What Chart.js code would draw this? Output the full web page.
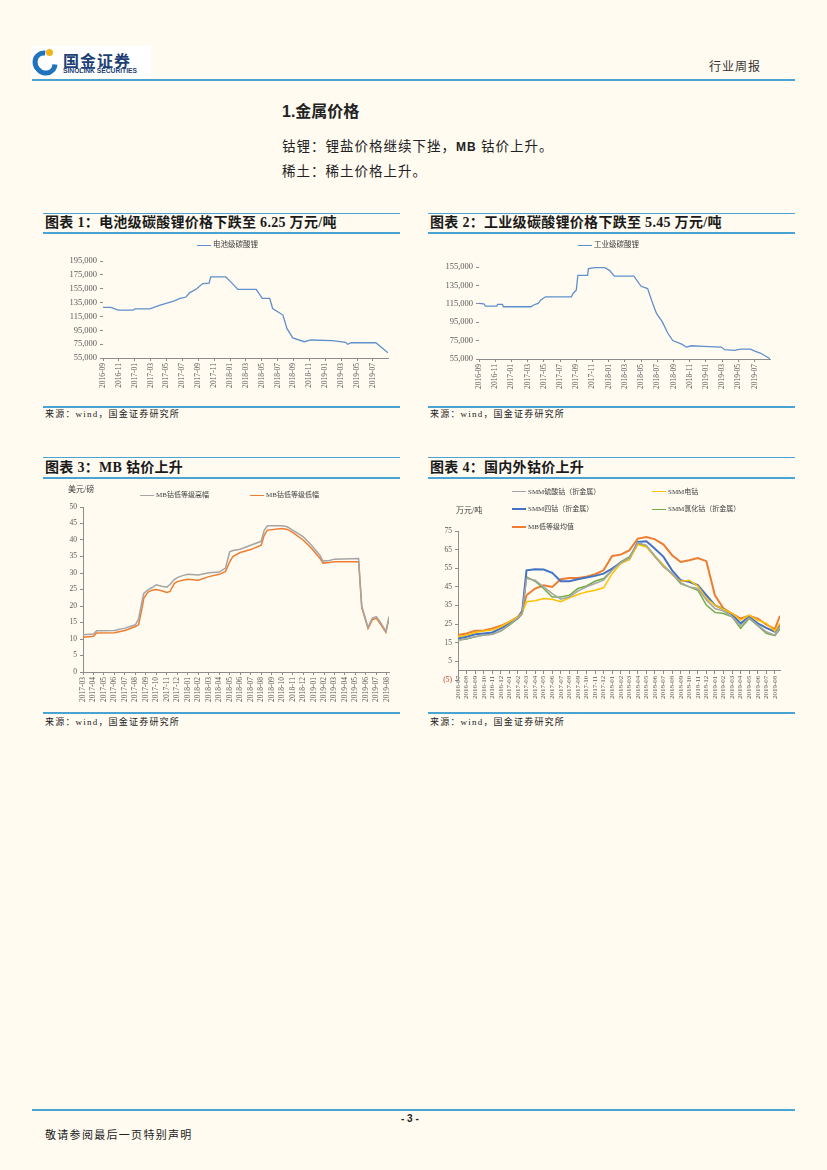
<!DOCTYPE html>
<html>
<head>
<meta charset="utf-8">
<title>行业周报</title>
<script src="https://cdn.jsdelivr.net/npm/chart.js@4.4.1/dist/chart.umd.min.js"></script>
<style>
  body { margin: 0; background: #fffbf1; }
  #page { position: relative; width: 827px; height: 1170px; overflow: hidden; font-family: "Liberation Serif", "Noto Sans CJK SC", serif; color: #222; }
  .abs { position: absolute; white-space: nowrap; }
  .rule { position: absolute; background: #4aa3d2; }
  .title { position: absolute; white-space: nowrap; font-size: 14px; line-height: 16px; font-weight: bold; letter-spacing: 0.3px; color: #1a1a1a; }
  .src { position: absolute; white-space: nowrap; font-size: 9px; line-height: 10px; letter-spacing: 1.2px; color: #222; }
  .box { position: absolute; }
  .unit { position: absolute; white-space: nowrap; font-size: 8px; line-height: 10px; color: #404040; }
  .legend { position: absolute; font-size: 7.5px; line-height: 10px; color: #404040; }
  .legend .item { display: flex; align-items: center; white-space: nowrap; }
  .legend i { display: inline-block; width: 14px; height: 0; border-top: 1.5px solid; margin-right: 2px; }
  #lg3, #lg4 { display: grid; }
  #lg3 { grid-template-columns: 110px 110px; font-size: 7px; }
  #lg4 { grid-template-columns: 140px 140px; grid-auto-rows: 17.5px; font-size: 7px; }
</style>
</head>
<body>
<div id="page">
  <!-- header -->
  <div class="abs" style="left:31px;top:46px;width:120px;height:32px;background:#fff;">
    <div class="abs" style="left:2px;top:4px;width:14px;height:16px;border:5px solid #1f74bd;border-right-color:transparent;border-radius:50%;transform:rotate(-40deg);"></div>
    <div class="abs" style="left:15px;top:3px;width:7px;height:7px;border-radius:50%;background:#f3b41b;"></div>
    <div class="abs" style="left:32px;top:2px;font:bold 16px 'Noto Sans CJK SC';letter-spacing:1px;color:#1d3f75;">国金证券</div>
    <div class="abs" style="left:32px;top:21px;font:bold 6.7px 'Liberation Sans';color:#1d3f75;">SINOLINK SECURITIES</div>
  </div>
  <div class="abs" style="left:709px;top:60px;font-size:12px;line-height:14px;letter-spacing:1px;color:#333;">行业周报</div>
  <div class="rule" style="left:32px;top:79px;width:763px;height:2px;"></div>

  <div class="abs" style="left:282px;top:102px;font-size:16px;line-height:20px;font-weight:bold;"><span style="font-family:'Liberation Sans'">1.</span>金属价格</div>
  <div class="abs" style="left:282px;top:138px;font-size:13.5px;line-height:18px;letter-spacing:1px;">钴锂：锂盐价格继续下挫，<span style="font-family:'Liberation Sans';font-weight:bold;font-size:12px;">MB</span> 钴价上升。</div>
  <div class="abs" style="left:282px;top:163px;font-size:13.5px;line-height:18px;letter-spacing:1px;">稀土：稀土价格上升。</div>

  <!-- chart 1 -->
  <div class="rule" style="left:43px;top:213px;width:357px;height:1px;"></div>
  <div class="title" style="left:45px;top:215px;">图表 1：电池级碳酸锂价格下跌至 6.25 万元/吨</div>
  <div class="rule" style="left:43px;top:232px;width:357px;height:2px;"></div>
  <div class="box" style="left:42px;top:236px;width:358px;height:166px;"><canvas id="c1"></canvas></div>
  <div class="legend" id="lg1" style="left:197px;top:240px;"></div>
  <div class="rule" style="left:43px;top:406px;width:357px;height:2px;"></div>
  <div class="src" style="left:45px;top:409px;">来源：wind，国金证券研究所</div>

  <!-- chart 2 -->
  <div class="rule" style="left:428px;top:213px;width:367px;height:1px;"></div>
  <div class="title" style="left:430px;top:215px;">图表 2：工业级碳酸锂价格下跌至 5.45 万元/吨</div>
  <div class="rule" style="left:428px;top:232px;width:367px;height:2px;"></div>
  <div class="box" style="left:428px;top:236px;width:367px;height:166px;"><canvas id="c2"></canvas></div>
  <div class="legend" id="lg2" style="left:578px;top:240px;"></div>
  <div class="rule" style="left:428px;top:406px;width:367px;height:2px;"></div>
  <div class="src" style="left:430px;top:409px;">来源：wind，国金证券研究所</div>

  <!-- chart 3 -->
  <div class="rule" style="left:43px;top:457px;width:357px;height:1px;"></div>
  <div class="title" style="left:45px;top:460px;">图表 3：MB 钴价上升</div>
  <div class="rule" style="left:43px;top:477px;width:357px;height:2px;"></div>
  <div class="box" style="left:42px;top:480px;width:358px;height:230px;"><canvas id="c3"></canvas></div>
  <div class="unit" style="left:68px;top:485px;">美元/磅</div>
  <div class="legend" id="lg3" style="left:140px;top:490px;"></div>
  <div class="rule" style="left:43px;top:712px;width:357px;height:2px;"></div>
  <div class="src" style="left:45px;top:717px;">来源：wind，国金证券研究所</div>

  <!-- chart 4 -->
  <div class="rule" style="left:428px;top:457px;width:367px;height:1px;"></div>
  <div class="title" style="left:430px;top:460px;">图表 4：国内外钴价上升</div>
  <div class="rule" style="left:428px;top:477px;width:367px;height:2px;"></div>
  <div class="box" style="left:428px;top:480px;width:367px;height:230px;"><canvas id="c4"></canvas></div>
  <div class="unit" style="left:456px;top:506px;">万元/吨</div>
  <div class="legend" id="lg4" style="left:512px;top:483px;"></div>
  <div class="rule" style="left:428px;top:712px;width:367px;height:2px;"></div>
  <div class="src" style="left:430px;top:717px;">来源：wind，国金证券研究所</div>

  <!-- footer -->
  <div class="rule" style="left:32px;top:1109px;width:763px;height:2px;"></div>
  <div class="abs" style="left:401px;top:1113px;font:bold 10px 'Liberation Sans';line-height:12px;">- 3 -</div>
  <div class="abs" style="left:45px;top:1129px;font-size:11px;line-height:12px;letter-spacing:1.3px;">敬请参阅最后一页特别声明</div>
</div>

<script>
// ---- 电池级碳酸锂 (元/吨)
var li1Dates = ['2016-09-01', '2016-10-01', '2016-10-28', '2016-12-25', '2017-01-01', '2017-02-28', '2017-04-04',
    '2017-06-01', '2017-06-22', '2017-07-15', '2017-07-28', '2017-08-25', '2017-09-18', '2017-10-12', '2017-10-18',
    '2017-12-15', '2018-01-01', '2018-02-01', '2018-04-10', '2018-05-03', '2018-06-01', '2018-06-12', '2018-07-21',
    '2018-08-06', '2018-08-28', '2018-10-12', '2018-11-06', '2019-01-28', '2019-03-18', '2019-03-25', '2019-04-10',
    '2019-07-12', '2019-08-28'];
var li1Values = [128000, 128000, 124000, 124000, 126000, 126000, 131000,
    137500, 141000, 143000, 149000, 155000, 162500, 163000, 172000,
    172000, 166000, 154000, 154000, 141000, 141000, 126500, 117000,
    97700, 84000, 78500, 81000, 80000, 77500, 74700, 77000,
    77000, 62600];

// ---- 工业级碳酸锂 (元/吨)
var li2Dates = ['2016-09-01', '2016-09-19', '2016-09-25', '2016-11-07', '2016-11-10', '2016-11-28', '2016-12-01',
    '2017-03-13', '2017-03-25', '2017-04-10', '2017-04-19', '2017-05-07', '2017-08-13', '2017-08-19', '2017-09-01',
    '2017-09-07', '2017-10-13', '2017-10-16', '2017-11-10', '2017-12-16', '2018-01-04', '2018-01-22', '2018-04-04',
    '2018-05-01', '2018-05-25', '2018-06-16', '2018-06-28', '2018-07-19', '2018-08-10', '2018-08-28', '2018-10-01',
    '2018-10-19', '2018-11-07', '2018-12-22', '2019-02-28', '2019-03-10', '2019-04-16', '2019-05-10', '2019-06-16',
    '2019-07-04', '2019-07-22', '2019-08-28'];
var li2Values = [115400, 115000, 112500, 112500, 114300, 114300, 111800,
    111800, 114000, 115500, 119000, 122600, 122600, 126200, 129800,
    146000, 146000, 153200, 154300, 154300, 151400, 145000, 145000,
    134000, 131600, 113600, 104600, 95600, 83000, 75100, 71200,
    68000, 69400, 68700, 68000, 65100, 64400, 65800, 65800,
    63300, 61500, 55400];

var liTicks = ['2016-09', '2016-11', '2017-01', '2017-03', '2017-05', '2017-07', '2017-09', '2017-11', '2018-01',
    '2018-03', '2018-05', '2018-07', '2018-09', '2018-11', '2019-01', '2019-03', '2019-05', '2019-07'];

// ---- MB钴 (美元/磅)
var mbDates = ['2017-03-01', '2017-04-01', '2017-04-10', '2017-06-01', '2017-07-01', '2017-08-01', '2017-08-10',
    '2017-08-20', '2017-08-25', '2017-09-07', '2017-09-19', '2017-10-01', '2017-10-16', '2017-11-01', '2017-11-10',
    '2017-11-22', '2017-12-01', '2017-12-16', '2018-01-01', '2018-02-01', '2018-03-01', '2018-04-01', '2018-04-19',
    '2018-05-01', '2018-05-10', '2018-06-01', '2018-07-01', '2018-08-01', '2018-08-10', '2018-08-19', '2018-10-01',
    '2018-10-16', '2018-11-01', '2018-12-01', '2018-12-25', '2019-01-19', '2019-01-28', '2019-02-16', '2019-03-01',
    '2019-05-10', '2019-05-19', '2019-06-07', '2019-06-19', '2019-07-01', '2019-07-16', '2019-07-28', '2019-08-07'];
var mbHigh = [11.3, 11.5, 12.5, 12.6, 13.3, 14.3, 16, 21.5, 23.8, 24.9, 25.6, 26.4, 26, 25.7, 26.5,
    28, 28.6, 29.2, 29.6, 29.4, 30.1, 30.3, 31.5, 36.4, 36.8, 37.2, 38.4, 39.6, 43, 44.3,
    44.3, 44, 43, 41, 38.4, 35.4, 33.6, 33.8, 34.2, 34.4, 20, 13.5, 16.3, 16.8, 14.5, 12.3, 16.8];
var mbLow = [10.5, 10.8, 11.8, 11.9, 12.6, 13.8, 14.3, 19.3, 22.3, 24.2, 24.8, 25, 24.6, 24.1, 24.4,
    26.8, 27.4, 27.8, 28.1, 27.8, 28.9, 29.6, 30.5, 33.4, 35, 36.2, 37.1, 38.4, 41.5, 43,
    43.5, 43.2, 42.3, 40, 37.5, 34.5, 33, 33.2, 33.4, 33.4, 19.5, 13.2, 15.8, 16.3, 14, 12, 16.3];
var mbTicks = ['2017-03', '2017-04', '2017-05', '2017-06', '2017-07', '2017-08', '2017-09', '2017-10', '2017-11',
    '2017-12', '2018-01', '2018-02', '2018-03', '2018-04', '2018-05', '2018-06', '2018-07', '2018-08', '2018-09',
    '2018-10', '2018-11', '2018-12', '2019-01', '2019-02', '2019-03', '2019-04', '2019-05', '2019-06', '2019-07',
    '2019-08'];

// ---- 国内外钴价 (万元/吨)
var coDates = ['2016-07-01', '2016-08-01', '2016-09-01', '2016-10-01', '2016-11-01', '2016-12-01', '2017-01-01',
    '2017-02-01', '2017-02-16', '2017-03-01', '2017-04-01', '2017-05-01', '2017-06-01', '2017-07-01', '2017-08-01',
    '2017-09-01', '2017-10-01', '2017-11-01', '2017-12-01', '2018-01-01', '2018-02-01', '2018-03-01', '2018-04-01',
    '2018-05-01', '2018-06-01', '2018-07-01', '2018-08-01', '2018-09-01', '2018-10-01', '2018-11-01', '2018-12-01',
    '2019-01-01', '2019-02-01', '2019-03-01', '2019-04-01', '2019-05-01', '2019-06-01', '2019-07-01', '2019-08-01',
    '2019-08-19'];
var coSulfate = [16.4, 17.3, 18.2, 19.1, 19.6, 21.4, 24.8, 28.4, 31, 49.5, 48.6, 45, 41.4, 38.4, 39.6,
    42.7, 45, 46.8, 48.6, 53.9, 58, 60.5, 68.8, 67.3, 61.1, 55.7, 52.1, 47.3, 45, 44.1,
    37.9, 33.4, 32, 28.9, 24.1, 28.4, 24.5, 20.9, 19.1, 23.6];
var coCathode = [18.2, 19.1, 20.5, 21.3, 21.8, 23.6, 26.2, 28.9, 31, 37, 37.5, 38.8, 38.4, 37, 39.1,
    40.9, 42.3, 43.2, 44.5, 52.1, 57.5, 59.8, 67.7, 66.4, 61.1, 56.6, 51.6, 48, 48.6, 45.4,
    38.8, 35.2, 33, 30.7, 27.1, 29.8, 27.1, 25.4, 21.3, 25.4];
var coOxide = [17.3, 18.2, 19.6, 20, 20.5, 22.7, 25.4, 28.4, 32, 53.9, 54.5, 54.3, 52.5, 48, 48,
    49.1, 50, 50.9, 52.1, 54.8, 58, 59.8, 69.1, 69.5, 65.5, 61.1, 53.9, 48.6, 47.7, 45.9,
    40.5, 35.2, 33, 30.2, 25.4, 28.9, 25.4, 23, 20.9, 24.5];
var coChloride = [16.4, 17, 18.2, 19.1, 19.5, 21.3, 24.5, 28, 30.5, 50.4, 48, 44.1, 39.6, 39.6, 40.5,
    44.1, 45.5, 48, 49.5, 53.9, 58.4, 61.1, 68.2, 67, 61.6, 56.6, 52.1, 46.8, 45, 43.2,
    35.2, 31.3, 30.7, 28.9, 22.7, 28, 24.1, 20, 18.8, 22.3];
var coMB = [19.1, 20, 21.4, 21.6, 22.7, 24.1, 26.2, 28.9, 32, 40.5, 44.1, 45.9, 45, 49.1, 49.8,
    49.8, 50.4, 51.8, 53.9, 61.6, 62.3, 64.6, 70.9, 71.8, 70.5, 67.7, 62, 58.4, 59.3, 60.5,
    58.8, 40.5, 33.4, 30.7, 28, 29.5, 28, 24.8, 22.3, 29.5];
var coTicks = ['2016-07', '2016-08', '2016-09', '2016-10', '2016-11', '2016-12', '2017-01', '2017-02', '2017-03',
    '2017-04', '2017-05', '2017-06', '2017-07', '2017-08', '2017-09', '2017-10', '2017-11', '2017-12', '2018-01',
    '2018-02', '2018-03', '2018-04', '2018-05', '2018-06', '2018-07', '2018-08', '2018-09', '2018-10', '2018-11',
    '2018-12', '2019-01', '2019-02', '2019-03', '2019-04', '2019-05', '2019-06', '2019-07', '2019-08'];

var TICK_COLOR = '#595959';
var AXIS_COLOR = '#8c8c8c';
var SERIF = 'Liberation Serif';

// months since the start month, days as a fraction of a month
function monthIndex(date, start) {
    var p = date.split('-').map(Number);
    var s = start.split('-').map(Number);
    return (p[0] - s[0]) * 12 + (p[1] - s[1]) + ((p[2] || 1) - 1) / 30;
}

function points(dates, values, start) {
    return dates.map(function (d, i) { return { x: monthIndex(d, start), y: values[i] }; });
}

function line(label, dates, values, start, color, width) {
    return {
        label: label,
        data: points(dates, values, start),
        borderColor: color,
        backgroundColor: color,
        borderWidth: width,
        pointRadius: 0,
        tension: 0
    };
}

function xAxis(tickLabels, start, maxDate, fontSize, height) {
    return {
        type: 'linear',
        min: 0,
        max: monthIndex(maxDate, start),
        afterBuildTicks: function (scale) {
            scale.ticks = tickLabels.map(function (t) { return { value: monthIndex(t, start) }; });
        },
        afterFit: height ? function (scale) { scale.height = height; } : undefined,
        ticks: {
            autoSkip: false, minRotation: 90, maxRotation: 90, padding: 2,
            color: TICK_COLOR, font: { family: SERIF, size: fontSize },
            callback: function (v, i) { return tickLabels[i]; }
        },
        grid: { drawOnChartArea: false, drawTicks: true, tickLength: 3, color: AXIS_COLOR },
        border: { display: true, color: AXIS_COLOR, width: 1 }
    };
}

function yAxis(min, max, step, width, fontSize, showBorder, format) {
    return {
        min: min,
        max: max,
        afterFit: function (scale) { scale.width = width; },
        ticks: {
            stepSize: step, padding: 3,
            color: function (ctx) { return ctx.tick && ctx.tick.value < 0 ? '#c0392b' : TICK_COLOR; },
            font: { family: SERIF, size: fontSize },
            callback: format
        },
        grid: { drawOnChartArea: false, drawTicks: true, tickLength: 3, color: AXIS_COLOR },
        border: { display: showBorder, color: AXIS_COLOR, width: 1 }
    };
}

function baseOptions(padding, scales) {
    return {
        animation: false,
        responsive: true,
        maintainAspectRatio: false,
        layout: { padding: padding },
        plugins: { legend: { display: false }, tooltip: { enabled: false } },
        scales: scales
    };
}

function buildLegend(chart, id) {
    var el = document.getElementById(id);
    chart.data.datasets.forEach(function (ds) {
        var item = document.createElement('span');
        item.className = 'item';
        var sw = document.createElement('i');
        sw.style.borderTopColor = ds.borderColor;
        sw.style.borderTopWidth = Math.min(ds.borderWidth, 2) + 'px';
        item.appendChild(sw);
        item.appendChild(document.createTextNode(ds.label));
        el.appendChild(item);
    });
}

var thousands = function (v) { return v.toLocaleString('en-US'); };

var chart1 = new Chart(document.getElementById('c1'), {
    type: 'line',
    data: { datasets: [line('电池级碳酸锂', li1Dates, li1Values, '2016-09', '#5f8fcc', 1.3)] },
    options: baseOptions({ top: 25, right: 12, bottom: 4, left: 0 }, {
        x: xAxis(liTicks, '2016-09', li1Dates[li1Dates.length - 1], 7.5, 40),
        y: yAxis(55000, 195000, 20000, 61, 8.5, false, thousands)
    })
});
buildLegend(chart1, 'lg1');

var chart2 = new Chart(document.getElementById('c2'), {
    type: 'line',
    data: { datasets: [line('工业级碳酸锂', li2Dates, li2Values, '2016-09', '#5f8fcc', 1.3)] },
    options: baseOptions({ top: 31, right: 25, bottom: 3, left: 0 }, {
        x: xAxis(liTicks, '2016-09', li2Dates[li2Dates.length - 1], 7.5, 40),
        y: yAxis(55000, 155000, 20000, 51, 8.5, false, thousands)
    })
});
buildLegend(chart2, 'lg2');

var chart3 = new Chart(document.getElementById('c3'), {
    type: 'line',
    data: {
        datasets: [
            line('MB钴低等级高幅', mbDates, mbHigh, '2017-03', '#a5a5a5', 1.5),
            line('MB钴低等级低幅', mbDates, mbLow, '2017-03', '#ed7d31', 1.5)
        ]
    },
    options: baseOptions({ top: 27, right: 11, bottom: 4, left: 0 }, {
        x: xAxis(mbTicks, '2017-03', mbDates[mbDates.length - 1], 7.5, 34),
        y: yAxis(0, 50, 5, 41, 7.5, true, function (v) { return v; })
    })
});
buildLegend(chart3, 'lg3');

var coX = xAxis(coTicks, '2016-07', coDates[coDates.length - 1], 7, 0);
coX.position = { y: 0 };
var chart4 = new Chart(document.getElementById('c4'), {
    type: 'line',
    data: {
        datasets: [
            line('SMM硫酸钴（折金属）', coDates, coSulfate, '2016-07', '#a5a5a5', 1.5),
            line('SMM电钴', coDates, coCathode, '2016-07', '#ffc000', 1.5),
            line('SMM四钴（折金属）', coDates, coOxide, '2016-07', '#4472c4', 2),
            line('SMM氯化钴（折金属）', coDates, coChloride, '2016-07', '#70ad47', 1.5),
            line('MB低等级均值', coDates, coMB, '2016-07', '#ed7d31', 2)
        ]
    },
    options: baseOptions({ top: 51, right: 15, bottom: 30, left: 0 }, {
        x: coX,
        y: yAxis(-5, 75, 10, 30, 7.5, true, function (v) { return v < 0 ? '(' + Math.abs(v) + ')' : v; })
    })
});
buildLegend(chart4, 'lg4');
</script>
</body>
</html>
